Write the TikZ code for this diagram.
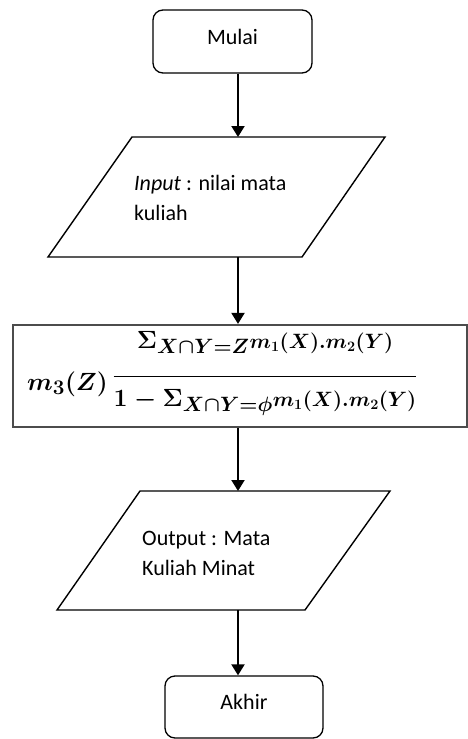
\documentclass[tikz,border=0pt]{standalone}
\usepackage{fontspec}
\setmainfont{Carlito}
\usetikzlibrary{arrows.meta}
\newsavebox{\formulabox}
\newsavebox{\mthreebox}
\begin{document}
\sbox{\mthreebox}{\fontsize{29}{34}\selectfont\boldmath$m_3(Z)$}%
\sbox{\formulabox}{\fontsize{29}{34}\selectfont\boldmath$\displaystyle
  \lower8pt\hbox{\usebox{\mthreebox}}\,\frac{\vrule height1pt depth26pt width0pt\Sigma_{X\cap Y=Z}{\scriptstyle m_1(X).m_2(Y)}}{\vrule height29pt depth0pt width0pt 1-\Sigma_{X\cap Y=\phi}{\scriptstyle m_1(X).m_2(Y)}}$}%
\begin{tikzpicture}[x=1pt,y=-1pt,
  term/.style={draw, line width=1.3pt, rounded corners=10pt, inner sep=0pt,
    font=\fontsize{22}{26}\selectfont},
  holder/.style={inner sep=0pt, outer sep=0pt},
  para/.style={draw, line width=1.4pt, line join=miter},
  txt/.style={anchor=west, align=left, inner sep=0pt, font=\fontsize{22}{30}\selectfont},
  arr/.style={line width=2pt, -{Triangle[width=13pt,length=11pt]}},
  fbox/.style={draw=black!70, line width=2.2pt, inner sep=0pt}]
\useasboundingbox (0,0) rectangle (468,739);
\coordinate (ax) at (238,0);
% start
\node[term, minimum width=159pt, minimum height=63pt, text height=6pt, text depth=0pt] (mulai) at (232.5,41.5) {Mulai};
% input
\node[holder, minimum width=337pt, minimum height=120pt] (in) at (216.5,197) {};
\draw[para] ([xshift=84pt]in.north west) -- (in.north east) -- ([xshift=-83pt]in.south east) -- (in.south west) -- cycle;
\node[txt] (intext) at (134,198) {\textit{Input} : nilai mata\\kuliah};
% formula
\node[fbox, minimum width=454pt, minimum height=102pt] (frm) at (240,376) {};
\node[anchor=base west, inner sep=0pt] (fx) at (27,382) {\usebox{\formulabox}};
% output
\node[holder, minimum width=333pt, minimum height=119pt] (out) at (223.5,550.5) {};
\draw[para] ([xshift=83pt]out.north west) -- (out.north east) -- ([xshift=-85pt]out.south east) -- (out.south west) -- cycle;
\node[txt] (outtext) at (142,553) {Output : Mata\\Kuliah Minat};
% end
\node[term, minimum width=158pt, minimum height=62pt, text height=4pt, text depth=0pt] (akhir) at (244,707) {Akhir};
% connectors
\draw[arr] (mulai.south -| ax) -- (in.north -| ax);
\draw[arr] (in.south -| ax) -- (frm.north -| ax);
\draw[arr] (frm.south -| ax) -- (out.north -| ax);
\draw[arr] (out.south -| ax) -- (akhir.north -| ax);
\end{tikzpicture}
\end{document}
